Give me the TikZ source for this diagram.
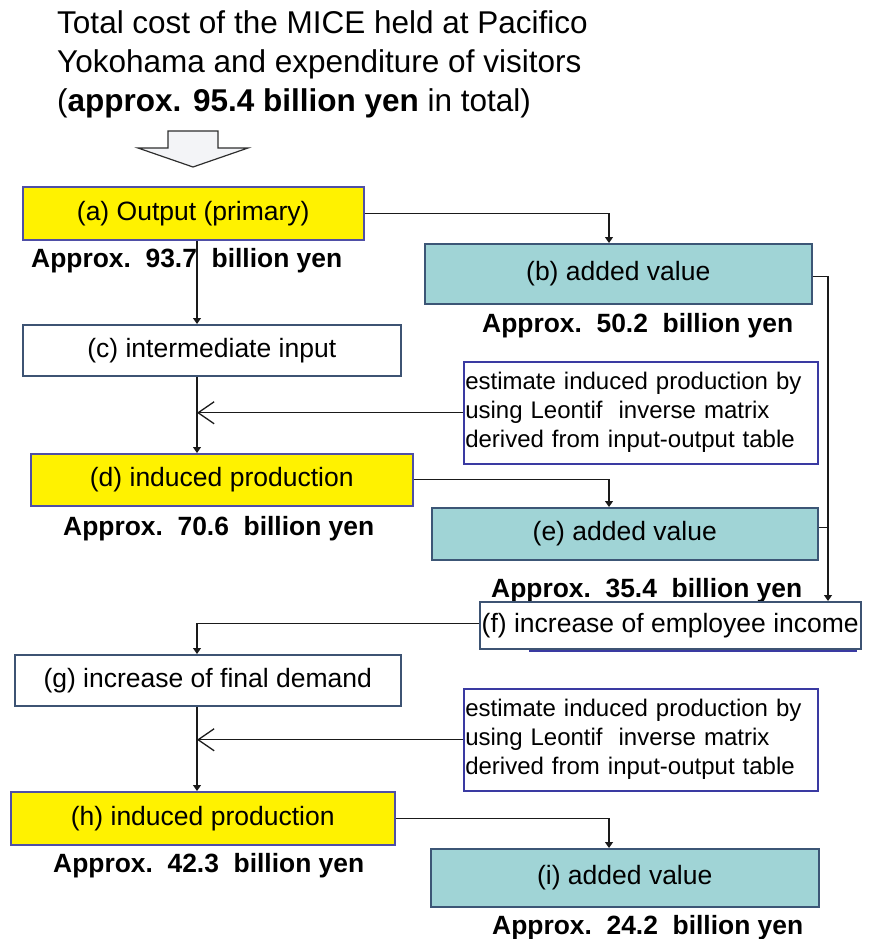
\documentclass[tikz,border=0pt]{standalone}
\usepackage{fontspec}
\setmainfont{Liberation Sans}
\usetikzlibrary{arrows.meta}

\definecolor{yellowedge}{HTML}{4F4FA6}
\definecolor{tealfill}{HTML}{A0D4D6}
\definecolor{tealedge}{HTML}{3C5676}
\definecolor{plainedge}{HTML}{3D5373}
\definecolor{noteedge}{HTML}{3A3AA2}
\definecolor{arrowfill}{HTML}{F3F4F7}
\definecolor{arrowedge}{HTML}{2E2E2E}
\definecolor{linkcolor}{HTML}{1A1A1A}

\newcommand{\boxfont}{\fontsize{26.5}{31}\selectfont}
\newcommand{\notefont}{\fontsize{24}{29}\selectfont}

\begin{document}
\begin{tikzpicture} [x=1pt,y=-1pt,
    box/.style={draw,line width=1.5pt,inner sep=0pt,anchor=north west,font=\boxfont},
    yellowbox/.style={box,draw=yellowedge,fill=yellow},
    tealbox/.style={box,draw=tealedge,fill=tealfill},
    plainbox/.style={box,draw=plainedge,fill=white},
    notebox/.style={draw=noteedge,line width=1.5pt,fill=white,anchor=north west,align=left,
        text width=351pt,inner xsep=1.5pt,inner ysep=0pt,font=\notefont},
    approx/.style={anchor=west,inner sep=0pt,font=\fontsize{26.4}{30}\selectfont\bfseries},
    link/.style={draw=linkcolor,line width=1.2pt,-{Triangle[width=8pt,length=6pt]}},
    bar/.style={draw=linkcolor,line width=1.2pt},
    barb/.style={draw=linkcolor,line width=1.3pt,-{Straight Barb[length=16pt,width=22pt]}}]
    \useasboundingbox (0,0) rectangle (870,939);

    \node[anchor=north west,inner sep=0pt,align=left,font=\fontsize{31.5}{39}\selectfont] (total) at (57,10)
        {Total cost of the MICE held at Pacifico\\Yokohama and expenditure of visitors\\(\textbf{approx. 95.4 billion yen} in total)};
    \draw[fill=arrowfill,draw=arrowedge,line width=1.2pt] (168,131) -- (218,131) -- (218,148) -- (248,148)
        -- (193,167) -- (138,148) -- (168,148) -- cycle;

    \node[yellowbox,minimum width=341pt,minimum height=53pt] (a) at (22,186) {(a) Output (primary)};
    \node[approx] (va) at (31,261) {Approx.~~93.7~~billion yen};
    \node[tealbox,minimum width=387pt,minimum height=60pt] (b) at (424,243) {(b) added value};
    \node[approx] (vb) at (482,326) {Approx.~~50.2~~billion yen};
    \node[plainbox,minimum width=378pt,minimum height=51pt] (c) at (22,324) {(c) intermediate input};
    \node[notebox,minimum height=102pt] (est1) at (463,361)
        {estimate induced production by\\using Leontif~~inverse matrix\\derived from input-output table};
    \node[yellowbox,minimum width=382pt,minimum height=52pt] (d) at (30,453) {(d) induced production};
    \node[approx] (vd) at (63,529) {Approx.~~70.6~~billion yen};
    \node[tealbox,minimum width=386pt,minimum height=52pt] (e) at (431,507) {(e) added value};
    \node[approx] (ve) at (491,591) {Approx.~~35.4~~billion yen};
    \draw[draw=noteedge,line width=1.5pt] (530,606) rectangle (856,651);
    \node[plainbox,minimum width=381pt,minimum height=47pt] (f) at (479,601) {(f) increase of employee income};
    \node[plainbox,minimum width=386pt,minimum height=51pt] (g) at (14,654) {(g) increase of final demand};
    \node[notebox,minimum height=102pt] (est2) at (463,688)
        {estimate induced production by\\using Leontif~~inverse matrix\\derived from input-output table};
    \node[yellowbox,minimum width=384pt,minimum height=53pt] (h) at (10,791) {(h) induced production};
    \node[approx] (vh) at (53,866) {Approx.~~42.3~~billion yen};
    \node[tealbox,minimum width=388pt,minimum height=58pt] (i) at (430,848) {(i) added value};
    \node[approx] (vi) at (492,928) {Approx.~~24.2~~billion yen};

    % connectors
    \coordinate (trunk) at (197,0);
    \coordinate (mid) at (609,0);
    \coordinate (bus) at (828,0);

    \draw[link] (a.east) -| (b.north -| mid);
    \draw[link] (a.south -| trunk) -- (c.north -| trunk);
    \draw[link] ([yshift=-3pt]b.east) -| (f.north -| bus);
    \draw[link] (c.south -| trunk) -- (d.north -| trunk);
    \draw[barb] (est1.west) -- (est1.west -| trunk);
    \draw[link] (d.east) -| (e.north -| mid);
    \draw[bar] ([yshift=6pt]e.east) -- ([yshift=6pt]e.east -| bus);
    \draw[link] ([yshift=2pt]f.west) -| (g.north -| trunk);
    \draw[link] (g.south -| trunk) -- (h.north -| trunk);
    \draw[barb] (est2.west) -- (est2.west -| trunk);
    \draw[link] (h.east) -| (i.north -| mid);
\end{tikzpicture}
\end{document}
